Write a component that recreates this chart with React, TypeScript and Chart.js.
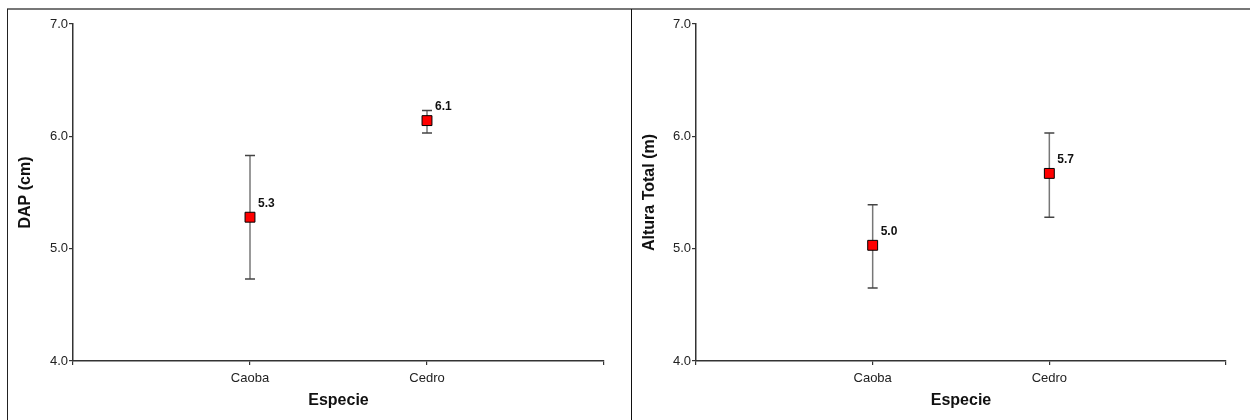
import React, { useEffect, useRef } from "react";
import { Chart, registerables } from "chart.js";

Chart.register(...registerables);

const categories = ["", "Caoba", "Cedro", ""];
const species = ["Caoba", "Cedro"];
const dapMean = [5.28, 6.14];
const dapUpper = [5.83, 6.23];
const dapLower = [4.73, 6.03];
const alturaMean = [5.03, 5.67];
const alturaUpper = [5.39, 6.03];
const alturaLower = [4.65, 5.28];
const yMin = 4;
const yMax = 7;

const FONT = "'Liberation Sans', Arial, sans-serif";

const errPlugin = {
  id: "errBars",
  beforeDatasetsDraw(chart: any, _args: any, opts: any) {
    const { ctx, scales } = chart;
    const xs = scales.x;
    const ys = scales.y;
    ctx.save();
    species.forEach((s: string, i: number) => {
      const x = xs.getPixelForValue(categories.indexOf(s));
      const yu = ys.getPixelForValue(opts.upper[i]);
      const yl = ys.getPixelForValue(opts.lower[i]);
      ctx.strokeStyle = "#777";
      ctx.lineWidth = 1.5;
      ctx.beginPath();
      ctx.moveTo(x, yu);
      ctx.lineTo(x, yl);
      ctx.stroke();
      ctx.strokeStyle = "#444";
      ctx.lineWidth = 1.5;
      ctx.beginPath();
      ctx.moveTo(x - 5, yu);
      ctx.lineTo(x + 5, yu);
      ctx.moveTo(x - 5, yl);
      ctx.lineTo(x + 5, yl);
      ctx.stroke();
    });
    ctx.restore();
  },
  afterDatasetsDraw(chart: any, _args: any, opts: any) {
    const { ctx, scales } = chart;
    const xs = scales.x;
    const ys = scales.y;
    ctx.save();
    ctx.font = `bold 12px ${FONT}`;
    ctx.fillStyle = "#111";
    ctx.textAlign = "left";
    ctx.textBaseline = "middle";
    species.forEach((s: string, i: number) => {
      const x = xs.getPixelForValue(categories.indexOf(s));
      const y = ys.getPixelForValue(opts.mean[i]);
      ctx.fillText(opts.mean[i].toFixed(1), x + 8, y - 14);
    });
    ctx.restore();
  },
};

function makeConfig(
  mean: number[],
  upper: number[],
  lower: number[],
  yTitle: string,
  yWidth: number,
  rightPad: number
): any {
  return {
    type: "line",
    data: {
      labels: categories,
      datasets: [
        {
          data: species.map((s, i) => ({ x: s, y: mean[i] })),
          showLine: false,
          pointStyle: "rect",
          pointRadius: 7,
          pointHoverRadius: 7,
          pointBackgroundColor: "#ff0000",
          pointBorderColor: "#000",
          pointBorderWidth: 1,
        },
      ],
    },
    plugins: [errPlugin],
    options: {
      responsive: false,
      animation: false,
      events: [],
      layout: { padding: { left: 0, top: 14, right: rightPad, bottom: 0 } },
      plugins: {
        legend: { display: false },
        tooltip: { enabled: false },
        errBars: { mean, upper, lower },
      },
      scales: {
        x: {
          type: "category",
          offset: false,
          grid: { drawOnChartArea: false, drawTicks: true, tickLength: 4, color: "#333", lineWidth: 1.2 },
          border: { display: true, color: "#333", width: 1.5 },
          ticks: { color: "#222", font: { family: FONT, size: 13 }, padding: 6, maxRotation: 0, autoSkip: false },
          title: {
            display: true,
            text: "Especie",
            color: "#111",
            font: { family: FONT, size: 16, weight: "bold" },
            padding: { top: 0, bottom: 10 },
          },
          afterFit: (sc: any) => {
            sc.height = 59;
          },
        },
        y: {
          min: yMin,
          max: yMax,
          grid: { drawOnChartArea: false, drawTicks: true, tickLength: 4, color: "#333", lineWidth: 1.2 },
          border: { display: true, color: "#333", width: 1.5 },
          ticks: {
            stepSize: 1,
            color: "#222",
            font: { family: FONT, size: 13 },
            padding: 1,
            callback: (v: any) => Number(v).toFixed(1),
          },
          title: {
            display: true,
            text: yTitle,
            color: "#111",
            font: { family: FONT, size: 16, weight: "bold" },
            padding: { top: 8, bottom: 0 },
          },
          afterFit: (sc: any) => {
            sc.width = yWidth;
          },
        },
      },
    },
  };
}

function Panel(props: {
  mean: number[];
  upper: number[];
  lower: number[];
  yTitle: string;
  width: number;
  yWidth: number;
  rightPad: number;
}) {
  const ref = useRef<HTMLCanvasElement | null>(null);
  useEffect(() => {
    if (!ref.current) return;
    const chart = new Chart(
      ref.current,
      makeConfig(props.mean, props.upper, props.lower, props.yTitle, props.yWidth, props.rightPad)
    );
    return () => chart.destroy();
  }, []);
  return (
    <canvas
      ref={ref}
      width={props.width}
      height={410}
      style={{ width: props.width, height: 410, display: "block" }}
    />
  );
}

export default function App() {
  return (
    <div style={{ position: "fixed", left: 0, top: 0, width: 1250, height: 420, background: "#fff", overflow: "hidden" }}>
      <div style={{ position: "absolute", left: 7, top: 8, width: 1243, height: 2, background: "#777" }} />
      <div style={{ position: "absolute", left: 7, top: 9, width: 1, height: 411, background: "#222" }} />
      <div style={{ position: "absolute", left: 631, top: 9, width: 1, height: 411, background: "#111" }} />
      <div style={{ position: "absolute", left: 8, top: 10 }}>
        <Panel mean={dapMean} upper={dapUpper} lower={dapLower} yTitle="DAP (cm)" width={622} yWidth={65} rightPad={26} />
      </div>
      <div style={{ position: "absolute", left: 632, top: 10 }}>
        <Panel mean={alturaMean} upper={alturaUpper} lower={alturaLower} yTitle="Altura Total (m)" width={617} yWidth={64} rightPad={23} />
      </div>
    </div>
  );
}
